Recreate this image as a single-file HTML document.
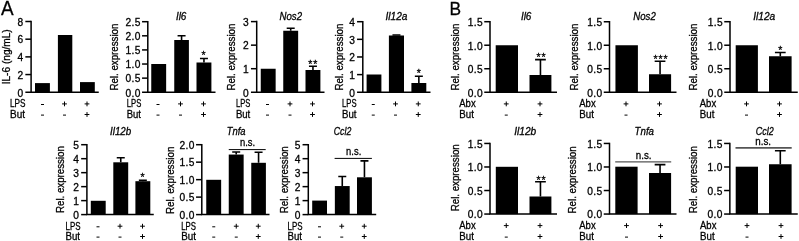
<!DOCTYPE html>
<html><head><meta charset="utf-8"><title>Figure</title>
<style>
html,body{margin:0;padding:0;background:#fff;}
body{width:799px;height:241px;overflow:hidden;}
svg{display:block;will-change:transform;}
svg text{font-family:'Liberation Sans', sans-serif;fill:#000;stroke:#000;stroke-width:0.3px;}
</style></head><body>
<svg width="799" height="241" viewBox="0 0 799 241" shape-rendering="auto">
<path d="M31.1 20.75V92.25H98.75" fill="none" stroke="#000" stroke-width="1.5" stroke-linecap="butt" stroke-linejoin="miter"/>
<path d="M25.35 21.50H31.1" stroke="#000" stroke-width="1.5"/>
<text x="23.15" y="25.80" text-anchor="end" font-size="10.2">8</text>
<path d="M25.35 39.19H31.1" stroke="#000" stroke-width="1.5"/>
<text x="23.15" y="43.49" text-anchor="end" font-size="10.2">6</text>
<path d="M25.35 56.88H31.1" stroke="#000" stroke-width="1.5"/>
<text x="23.15" y="61.17" text-anchor="end" font-size="10.2">4</text>
<path d="M25.35 74.56H31.1" stroke="#000" stroke-width="1.5"/>
<text x="23.15" y="78.86" text-anchor="end" font-size="10.2">2</text>
<path d="M25.35 92.25H31.1" stroke="#000" stroke-width="1.5"/>
<text x="23.15" y="96.55" text-anchor="end" font-size="10.2">0</text>
<rect x="35" y="83.1" width="14.90" height="9.15" fill="#000"/>
<rect x="57.9" y="35" width="14.40" height="57.25" fill="#000"/>
<rect x="80" y="82.1" width="14.80" height="10.15" fill="#000"/>
<text transform="translate(10.0 56.8) rotate(-90)" text-anchor="middle" font-size="10.6" textLength="55" lengthAdjust="spacingAndGlyphs">IL-6 (ng/mL)</text>
<text x="10" y="106.9" font-size="10.2" textLength="15.50" lengthAdjust="spacingAndGlyphs">LPS</text>
<text x="10" y="117.5" font-size="10.2" textLength="15.00" lengthAdjust="spacingAndGlyphs">But</text>
<path d="M41.00 104.50H44.00" stroke="#000" stroke-width="1" fill="none"/>
<path d="M62.10 103.90H66.90M64.50 101.50V106.30" stroke="#000" stroke-width="1" fill="none"/>
<path d="M84.60 103.90H89.40M87.00 101.50V106.30" stroke="#000" stroke-width="1" fill="none"/>
<path d="M41.00 115.10H44.00" stroke="#000" stroke-width="1" fill="none"/>
<path d="M63.00 115.10H66.00" stroke="#000" stroke-width="1" fill="none"/>
<path d="M84.60 114.50H89.40M87.00 112.10V116.90" stroke="#000" stroke-width="1" fill="none"/>
<path d="M147.8 20.95V92.25H215.5" fill="none" stroke="#000" stroke-width="1.5" stroke-linecap="butt" stroke-linejoin="miter"/>
<path d="M142.05 21.70H147.8" stroke="#000" stroke-width="1.5"/>
<text x="140.85" y="26.00" text-anchor="end" font-size="10.2" letter-spacing="0.4">2.5</text>
<path d="M142.05 35.81H147.8" stroke="#000" stroke-width="1.5"/>
<text x="140.85" y="40.11" text-anchor="end" font-size="10.2" letter-spacing="0.4">2.0</text>
<path d="M142.05 49.92H147.8" stroke="#000" stroke-width="1.5"/>
<text x="140.85" y="54.22" text-anchor="end" font-size="10.2" letter-spacing="0.4">1.5</text>
<path d="M142.05 64.03H147.8" stroke="#000" stroke-width="1.5"/>
<text x="140.85" y="68.33" text-anchor="end" font-size="10.2" letter-spacing="0.4">1.0</text>
<path d="M142.05 78.14H147.8" stroke="#000" stroke-width="1.5"/>
<text x="140.85" y="82.44" text-anchor="end" font-size="10.2" letter-spacing="0.4">0.5</text>
<path d="M142.05 92.25H147.8" stroke="#000" stroke-width="1.5"/>
<text x="140.85" y="96.55" text-anchor="end" font-size="10.2" letter-spacing="0.4">0.0</text>
<rect x="151.25" y="64" width="14.90" height="28.25" fill="#000"/>
<rect x="174.25" y="40" width="14.65" height="52.25" fill="#000"/>
<path d="M181.57 40V35.75M177.57 35.75H185.57" stroke="#000" stroke-width="1.6" fill="none"/>
<rect x="196.5" y="62.5" width="14.90" height="29.75" fill="#000"/>
<path d="M203.95 62.5V58.5M199.95 58.5H207.95" stroke="#000" stroke-width="1.6" fill="none"/>
<text x="181.15" y="20" text-anchor="middle" font-style="italic" font-size="10.8" textLength="10.50" lengthAdjust="spacingAndGlyphs">Il6</text>
<text transform="translate(118.3 57.1) rotate(-90)" text-anchor="middle" font-size="10.6" textLength="66.9" lengthAdjust="spacingAndGlyphs">Rel. expression</text>
<text x="126.75" y="106.9" font-size="10.2" textLength="14.50" lengthAdjust="spacingAndGlyphs">LPS</text>
<text x="126.75" y="117.5" font-size="10.2" textLength="14.25" lengthAdjust="spacingAndGlyphs">But</text>
<path d="M156.50 104.50H159.50" stroke="#000" stroke-width="1" fill="none"/>
<path d="M178.10 103.90H182.90M180.50 101.50V106.30" stroke="#000" stroke-width="1" fill="none"/>
<path d="M201.10 103.90H205.90M203.50 101.50V106.30" stroke="#000" stroke-width="1" fill="none"/>
<path d="M156.50 115.10H159.50" stroke="#000" stroke-width="1" fill="none"/>
<path d="M179.00 115.10H182.00" stroke="#000" stroke-width="1" fill="none"/>
<path d="M201.10 114.50H205.90M203.50 112.10V116.90" stroke="#000" stroke-width="1" fill="none"/>
<text x="204.04999999999998" y="59.00" text-anchor="middle" font-size="10.5" letter-spacing="0.9">*</text>
<path d="M256.7 20.85V92.25H324.5" fill="none" stroke="#000" stroke-width="1.5" stroke-linecap="butt" stroke-linejoin="miter"/>
<path d="M250.95 21.60H256.7" stroke="#000" stroke-width="1.5"/>
<text x="248.75" y="25.90" text-anchor="end" font-size="10.2">3</text>
<path d="M250.95 45.15H256.7" stroke="#000" stroke-width="1.5"/>
<text x="248.75" y="49.45" text-anchor="end" font-size="10.2">2</text>
<path d="M250.95 68.70H256.7" stroke="#000" stroke-width="1.5"/>
<text x="248.75" y="73.00" text-anchor="end" font-size="10.2">1</text>
<path d="M250.95 92.25H256.7" stroke="#000" stroke-width="1.5"/>
<text x="248.75" y="96.55" text-anchor="end" font-size="10.2">0</text>
<rect x="260.75" y="68.75" width="14.90" height="23.50" fill="#000"/>
<rect x="283.25" y="30.75" width="14.90" height="61.50" fill="#000"/>
<path d="M290.70 30.75V28.25M286.70 28.25H294.70" stroke="#000" stroke-width="1.6" fill="none"/>
<rect x="305.5" y="70" width="14.90" height="22.25" fill="#000"/>
<path d="M312.95 70V66.25M308.95 66.25H316.95" stroke="#000" stroke-width="1.6" fill="none"/>
<text x="290.75" y="19.5" text-anchor="middle" font-style="italic" font-size="10.8" textLength="22.50" lengthAdjust="spacingAndGlyphs">Nos2</text>
<text transform="translate(235 57.1) rotate(-90)" text-anchor="middle" font-size="10.6" textLength="66.9" lengthAdjust="spacingAndGlyphs">Rel. expression</text>
<text x="235.9" y="106.9" font-size="10.2" textLength="14.40" lengthAdjust="spacingAndGlyphs">LPS</text>
<text x="235.9" y="117.5" font-size="10.2" textLength="14.40" lengthAdjust="spacingAndGlyphs">But</text>
<path d="M266.00 104.50H269.00" stroke="#000" stroke-width="1" fill="none"/>
<path d="M287.60 103.90H292.40M290.00 101.50V106.30" stroke="#000" stroke-width="1" fill="none"/>
<path d="M310.10 103.90H314.90M312.50 101.50V106.30" stroke="#000" stroke-width="1" fill="none"/>
<path d="M266.00 115.10H269.00" stroke="#000" stroke-width="1" fill="none"/>
<path d="M288.50 115.10H291.50" stroke="#000" stroke-width="1" fill="none"/>
<path d="M310.10 114.50H314.90M312.50 112.10V116.90" stroke="#000" stroke-width="1" fill="none"/>
<text x="313.2" y="68.30" text-anchor="middle" font-size="10.5" letter-spacing="0.9">**</text>
<path d="M362.8 20.95V92.25H430.5" fill="none" stroke="#000" stroke-width="1.5" stroke-linecap="butt" stroke-linejoin="miter"/>
<path d="M357.05 21.70H362.8" stroke="#000" stroke-width="1.5"/>
<text x="354.85" y="26.00" text-anchor="end" font-size="10.2">4</text>
<path d="M357.05 39.34H362.8" stroke="#000" stroke-width="1.5"/>
<text x="354.85" y="43.64" text-anchor="end" font-size="10.2">3</text>
<path d="M357.05 56.97H362.8" stroke="#000" stroke-width="1.5"/>
<text x="354.85" y="61.27" text-anchor="end" font-size="10.2">2</text>
<path d="M357.05 74.61H362.8" stroke="#000" stroke-width="1.5"/>
<text x="354.85" y="78.91" text-anchor="end" font-size="10.2">1</text>
<path d="M357.05 92.25H362.8" stroke="#000" stroke-width="1.5"/>
<text x="354.85" y="96.55" text-anchor="end" font-size="10.2">0</text>
<rect x="366.6" y="74.5" width="14.80" height="17.75" fill="#000"/>
<rect x="388.9" y="35.5" width="15.10" height="56.75" fill="#000"/>
<path d="M396.45 35.5V35.0M392.45 35.0H400.45" stroke="#000" stroke-width="1.6" fill="none"/>
<rect x="411.4" y="83" width="14.90" height="9.25" fill="#000"/>
<path d="M418.85 83V76.25M414.85 76.25H422.85" stroke="#000" stroke-width="1.6" fill="none"/>
<text x="396.50" y="20" text-anchor="middle" font-style="italic" font-size="10.8" textLength="22.00" lengthAdjust="spacingAndGlyphs">Il12a</text>
<text transform="translate(343 57.1) rotate(-90)" text-anchor="middle" font-size="10.6" textLength="66.9" lengthAdjust="spacingAndGlyphs">Rel. expression</text>
<text x="342" y="106.9" font-size="10.2" textLength="14.50" lengthAdjust="spacingAndGlyphs">LPS</text>
<text x="342" y="117.5" font-size="10.2" textLength="14.50" lengthAdjust="spacingAndGlyphs">But</text>
<path d="M371.75 104.50H374.75" stroke="#000" stroke-width="1" fill="none"/>
<path d="M393.10 103.90H397.90M395.50 101.50V106.30" stroke="#000" stroke-width="1" fill="none"/>
<path d="M415.85 103.90H420.65M418.25 101.50V106.30" stroke="#000" stroke-width="1" fill="none"/>
<path d="M371.75 115.10H374.75" stroke="#000" stroke-width="1" fill="none"/>
<path d="M394.00 115.10H397.00" stroke="#000" stroke-width="1" fill="none"/>
<path d="M415.85 114.50H420.65M418.25 112.10V116.90" stroke="#000" stroke-width="1" fill="none"/>
<text x="419.2" y="77.00" text-anchor="middle" font-size="10.5" letter-spacing="0.9">*</text>
<path d="M86.9 143.95V214.60H153.75" fill="none" stroke="#000" stroke-width="1.5" stroke-linecap="butt" stroke-linejoin="miter"/>
<path d="M81.15 144.70H86.9" stroke="#000" stroke-width="1.5"/>
<text x="78.95" y="149.00" text-anchor="end" font-size="10.2">5</text>
<path d="M81.15 158.68H86.9" stroke="#000" stroke-width="1.5"/>
<text x="78.95" y="162.98" text-anchor="end" font-size="10.2">4</text>
<path d="M81.15 172.66H86.9" stroke="#000" stroke-width="1.5"/>
<text x="78.95" y="176.96" text-anchor="end" font-size="10.2">3</text>
<path d="M81.15 186.64H86.9" stroke="#000" stroke-width="1.5"/>
<text x="78.95" y="190.94" text-anchor="end" font-size="10.2">2</text>
<path d="M81.15 200.62H86.9" stroke="#000" stroke-width="1.5"/>
<text x="78.95" y="204.92" text-anchor="end" font-size="10.2">1</text>
<path d="M81.15 214.60H86.9" stroke="#000" stroke-width="1.5"/>
<text x="78.95" y="218.90" text-anchor="end" font-size="10.2">0</text>
<rect x="90.8" y="200.8" width="14.90" height="13.80" fill="#000"/>
<rect x="113.3" y="162.3" width="14.90" height="52.30" fill="#000"/>
<path d="M120.75 162.3V157.7M116.75 157.7H124.75" stroke="#000" stroke-width="1.6" fill="none"/>
<rect x="135.4" y="181.2" width="14.90" height="33.40" fill="#000"/>
<path d="M142.85 181.2V180.2M138.85 180.2H146.85" stroke="#000" stroke-width="1.6" fill="none"/>
<text x="120.62" y="135" text-anchor="middle" font-style="italic" font-size="10.8" textLength="21.25" lengthAdjust="spacingAndGlyphs">Il12b</text>
<text transform="translate(63.8 179.6) rotate(-90)" text-anchor="middle" font-size="10.6" textLength="66.8" lengthAdjust="spacingAndGlyphs">Rel. expression</text>
<text x="65.5" y="229.7" font-size="10.2" textLength="15.00" lengthAdjust="spacingAndGlyphs">LPS</text>
<text x="65.5" y="239.9" font-size="10.2" textLength="14.50" lengthAdjust="spacingAndGlyphs">But</text>
<path d="M96.50 226.80H99.50" stroke="#000" stroke-width="1" fill="none"/>
<path d="M117.60 226.20H122.40M120.00 223.80V228.60" stroke="#000" stroke-width="1" fill="none"/>
<path d="M140.10 226.20H144.90M142.50 223.80V228.60" stroke="#000" stroke-width="1" fill="none"/>
<path d="M96.50 237.10H99.50" stroke="#000" stroke-width="1" fill="none"/>
<path d="M118.50 237.10H121.50" stroke="#000" stroke-width="1" fill="none"/>
<path d="M140.10 236.50H144.90M142.50 234.10V238.90" stroke="#000" stroke-width="1" fill="none"/>
<text x="142.95" y="181.30" text-anchor="middle" font-size="10.5" letter-spacing="0.9">*</text>
<path d="M201.8 143.95V214.60H269.5" fill="none" stroke="#000" stroke-width="1.5" stroke-linecap="butt" stroke-linejoin="miter"/>
<path d="M196.05 144.70H201.8" stroke="#000" stroke-width="1.5"/>
<text x="194.85" y="149.00" text-anchor="end" font-size="10.2" letter-spacing="0.4">2.0</text>
<path d="M196.05 162.17H201.8" stroke="#000" stroke-width="1.5"/>
<text x="194.85" y="166.47" text-anchor="end" font-size="10.2" letter-spacing="0.4">1.5</text>
<path d="M196.05 179.65H201.8" stroke="#000" stroke-width="1.5"/>
<text x="194.85" y="183.95" text-anchor="end" font-size="10.2" letter-spacing="0.4">1.0</text>
<path d="M196.05 197.12H201.8" stroke="#000" stroke-width="1.5"/>
<text x="194.85" y="201.43" text-anchor="end" font-size="10.2" letter-spacing="0.4">0.5</text>
<path d="M196.05 214.60H201.8" stroke="#000" stroke-width="1.5"/>
<text x="194.85" y="218.90" text-anchor="end" font-size="10.2" letter-spacing="0.4">0.0</text>
<rect x="206.25" y="179.8" width="14.90" height="34.80" fill="#000"/>
<rect x="228.75" y="154.55" width="14.90" height="60.05" fill="#000"/>
<path d="M236.20 154.55V152.05M232.20 152.05H240.20" stroke="#000" stroke-width="1.6" fill="none"/>
<rect x="251.25" y="162.8" width="14.65" height="51.80" fill="#000"/>
<path d="M258.57 162.8V152.3M254.57 152.3H262.57" stroke="#000" stroke-width="1.6" fill="none"/>
<text x="236.10" y="135" text-anchor="middle" font-style="italic" font-size="10.8" textLength="18.80" lengthAdjust="spacingAndGlyphs">Tnfa</text>
<text transform="translate(173.6 180.3) rotate(-90)" text-anchor="middle" font-size="10.6" textLength="67.3" lengthAdjust="spacingAndGlyphs">Rel. expression</text>
<text x="181.25" y="229.7" font-size="10.2" textLength="14.75" lengthAdjust="spacingAndGlyphs">LPS</text>
<text x="181.25" y="239.9" font-size="10.2" textLength="14.75" lengthAdjust="spacingAndGlyphs">But</text>
<path d="M212.25 226.80H215.25" stroke="#000" stroke-width="1" fill="none"/>
<path d="M233.85 226.20H238.65M236.25 223.80V228.60" stroke="#000" stroke-width="1" fill="none"/>
<path d="M255.85 226.20H260.65M258.25 223.80V228.60" stroke="#000" stroke-width="1" fill="none"/>
<path d="M212.25 237.10H215.25" stroke="#000" stroke-width="1" fill="none"/>
<path d="M234.75 237.10H237.75" stroke="#000" stroke-width="1" fill="none"/>
<path d="M255.85 236.50H260.65M258.25 234.10V238.90" stroke="#000" stroke-width="1" fill="none"/>
<text x="240" y="146.3" font-size="10.2" textLength="15.20" lengthAdjust="spacingAndGlyphs">n.s.</text>
<path d="M228.75 149.6H265.7" stroke="#000" stroke-width="1.0"/>
<path d="M308.3 143.95V214.60H376.2" fill="none" stroke="#000" stroke-width="1.5" stroke-linecap="butt" stroke-linejoin="miter"/>
<path d="M302.55 144.70H308.3" stroke="#000" stroke-width="1.5"/>
<text x="300.35" y="149.00" text-anchor="end" font-size="10.2">5</text>
<path d="M302.55 158.68H308.3" stroke="#000" stroke-width="1.5"/>
<text x="300.35" y="162.98" text-anchor="end" font-size="10.2">4</text>
<path d="M302.55 172.66H308.3" stroke="#000" stroke-width="1.5"/>
<text x="300.35" y="176.96" text-anchor="end" font-size="10.2">3</text>
<path d="M302.55 186.64H308.3" stroke="#000" stroke-width="1.5"/>
<text x="300.35" y="190.94" text-anchor="end" font-size="10.2">2</text>
<path d="M302.55 200.62H308.3" stroke="#000" stroke-width="1.5"/>
<text x="300.35" y="204.92" text-anchor="end" font-size="10.2">1</text>
<path d="M302.55 214.60H308.3" stroke="#000" stroke-width="1.5"/>
<text x="300.35" y="218.90" text-anchor="end" font-size="10.2">0</text>
<rect x="312.2" y="200.6" width="14.80" height="14.00" fill="#000"/>
<rect x="334.85" y="186.05" width="14.85" height="28.55" fill="#000"/>
<path d="M342.27 186.05V176.55M338.27 176.55H346.27" stroke="#000" stroke-width="1.6" fill="none"/>
<rect x="357" y="177.3" width="14.90" height="37.30" fill="#000"/>
<path d="M364.45 177.3V160.9M360.45 160.9H368.45" stroke="#000" stroke-width="1.6" fill="none"/>
<text x="342.50" y="135" text-anchor="middle" font-style="italic" font-size="10.8" textLength="17.50" lengthAdjust="spacingAndGlyphs">Ccl2</text>
<text transform="translate(287.5 179.8) rotate(-90)" text-anchor="middle" font-size="10.6" textLength="67.0" lengthAdjust="spacingAndGlyphs">Rel. expression</text>
<text x="287.5" y="229.7" font-size="10.2" textLength="15.00" lengthAdjust="spacingAndGlyphs">LPS</text>
<text x="287.5" y="239.9" font-size="10.2" textLength="14.50" lengthAdjust="spacingAndGlyphs">But</text>
<path d="M318.00 226.80H321.00" stroke="#000" stroke-width="1" fill="none"/>
<path d="M339.35 226.20H344.15M341.75 223.80V228.60" stroke="#000" stroke-width="1" fill="none"/>
<path d="M361.85 226.20H366.65M364.25 223.80V228.60" stroke="#000" stroke-width="1" fill="none"/>
<path d="M318.00 237.10H321.00" stroke="#000" stroke-width="1" fill="none"/>
<path d="M340.25 237.10H343.25" stroke="#000" stroke-width="1" fill="none"/>
<path d="M361.85 236.50H366.65M364.25 234.10V238.90" stroke="#000" stroke-width="1" fill="none"/>
<text x="346.1" y="154.9" font-size="10.2" textLength="15.20" lengthAdjust="spacingAndGlyphs">n.s.</text>
<path d="M334.6 158.4H371.9" stroke="#000" stroke-width="1.0"/>
<path d="M490.0 20.95V92.25H557" fill="none" stroke="#000" stroke-width="1.5" stroke-linecap="butt" stroke-linejoin="miter"/>
<path d="M484.25 21.70H490.0" stroke="#000" stroke-width="1.5"/>
<text x="483.05" y="26.00" text-anchor="end" font-size="10.2" letter-spacing="0.4">1.5</text>
<path d="M484.25 45.22H490.0" stroke="#000" stroke-width="1.5"/>
<text x="483.05" y="49.52" text-anchor="end" font-size="10.2" letter-spacing="0.4">1.0</text>
<path d="M484.25 68.73H490.0" stroke="#000" stroke-width="1.5"/>
<text x="483.05" y="73.03" text-anchor="end" font-size="10.2" letter-spacing="0.4">0.5</text>
<path d="M484.25 92.25H490.0" stroke="#000" stroke-width="1.5"/>
<text x="483.05" y="96.55" text-anchor="end" font-size="10.2" letter-spacing="0.4">0.0</text>
<rect x="495.7" y="45.25" width="22.30" height="47.00" fill="#000"/>
<rect x="529.5" y="75" width="21.90" height="17.25" fill="#000"/>
<path d="M540.45 75V59.6M535.08 59.6H545.83" stroke="#000" stroke-width="1.6" fill="none"/>
<text x="526.15" y="20" text-anchor="middle" font-style="italic" font-size="10.8" textLength="10.50" lengthAdjust="spacingAndGlyphs">Il6</text>
<text transform="translate(458.5 57.1) rotate(-90)" text-anchor="middle" font-size="10.6" textLength="66.9" lengthAdjust="spacingAndGlyphs">Rel. expression</text>
<text x="459.25" y="107.3" font-size="10.2" textLength="16.40" lengthAdjust="spacingAndGlyphs">Abx</text>
<text x="459.35" y="117.9" font-size="10.2" textLength="14.60" lengthAdjust="spacingAndGlyphs">But</text>
<path d="M503.85 103.90H508.65M506.25 101.50V106.30" stroke="#000" stroke-width="1" fill="none"/>
<path d="M537.60 103.90H542.40M540.00 101.50V106.30" stroke="#000" stroke-width="1" fill="none"/>
<path d="M504.75 115.10H507.75" stroke="#000" stroke-width="1" fill="none"/>
<path d="M537.60 114.50H542.40M540.00 112.10V116.90" stroke="#000" stroke-width="1" fill="none"/>
<text x="541.45" y="61.30" text-anchor="middle" font-size="10.5" letter-spacing="0.9">**</text>
<path d="M609.5 21.00V92.25H676.5" fill="none" stroke="#000" stroke-width="1.5" stroke-linecap="butt" stroke-linejoin="miter"/>
<path d="M603.75 21.75H609.5" stroke="#000" stroke-width="1.5"/>
<text x="602.55" y="26.05" text-anchor="end" font-size="10.2" letter-spacing="0.4">1.5</text>
<path d="M603.75 45.25H609.5" stroke="#000" stroke-width="1.5"/>
<text x="602.55" y="49.55" text-anchor="end" font-size="10.2" letter-spacing="0.4">1.0</text>
<path d="M603.75 68.75H609.5" stroke="#000" stroke-width="1.5"/>
<text x="602.55" y="73.05" text-anchor="end" font-size="10.2" letter-spacing="0.4">0.5</text>
<path d="M603.75 92.25H609.5" stroke="#000" stroke-width="1.5"/>
<text x="602.55" y="96.55" text-anchor="end" font-size="10.2" letter-spacing="0.4">0.0</text>
<rect x="615.45" y="45.25" width="22.45" height="47.00" fill="#000"/>
<rect x="649" y="74.25" width="22.10" height="18.00" fill="#000"/>
<path d="M660.05 74.25V61.25M654.67 61.25H665.42" stroke="#000" stroke-width="1.6" fill="none"/>
<text x="644.50" y="19.5" text-anchor="middle" font-style="italic" font-size="10.8" textLength="22.50" lengthAdjust="spacingAndGlyphs">Nos2</text>
<text transform="translate(577.5 57.1) rotate(-90)" text-anchor="middle" font-size="10.6" textLength="66.9" lengthAdjust="spacingAndGlyphs">Rel. expression</text>
<text x="579.25" y="107.3" font-size="10.2" textLength="16.40" lengthAdjust="spacingAndGlyphs">Abx</text>
<text x="579.35" y="117.9" font-size="10.2" textLength="14.60" lengthAdjust="spacingAndGlyphs">But</text>
<path d="M623.60 103.90H628.40M626.00 101.50V106.30" stroke="#000" stroke-width="1" fill="none"/>
<path d="M657.10 103.90H661.90M659.50 101.50V106.30" stroke="#000" stroke-width="1" fill="none"/>
<path d="M624.50 115.10H627.50" stroke="#000" stroke-width="1" fill="none"/>
<path d="M657.10 114.50H661.90M659.50 112.10V116.90" stroke="#000" stroke-width="1" fill="none"/>
<text x="660.95" y="62.80" text-anchor="middle" font-size="10.5" letter-spacing="0.9">***</text>
<path d="M730.0 20.95V92.25H797.75" fill="none" stroke="#000" stroke-width="1.5" stroke-linecap="butt" stroke-linejoin="miter"/>
<path d="M724.25 21.70H730.0" stroke="#000" stroke-width="1.5"/>
<text x="723.05" y="26.00" text-anchor="end" font-size="10.2" letter-spacing="0.4">1.5</text>
<path d="M724.25 45.22H730.0" stroke="#000" stroke-width="1.5"/>
<text x="723.05" y="49.52" text-anchor="end" font-size="10.2" letter-spacing="0.4">1.0</text>
<path d="M724.25 68.73H730.0" stroke="#000" stroke-width="1.5"/>
<text x="723.05" y="73.03" text-anchor="end" font-size="10.2" letter-spacing="0.4">0.5</text>
<path d="M724.25 92.25H730.0" stroke="#000" stroke-width="1.5"/>
<text x="723.05" y="96.55" text-anchor="end" font-size="10.2" letter-spacing="0.4">0.0</text>
<rect x="735.7" y="45.25" width="22.20" height="47.00" fill="#000"/>
<rect x="769" y="56.25" width="22.60" height="36.00" fill="#000"/>
<path d="M780.30 56.25V52.5M774.92 52.5H785.67" stroke="#000" stroke-width="1.6" fill="none"/>
<text x="764.25" y="20" text-anchor="middle" font-style="italic" font-size="10.8" textLength="22.00" lengthAdjust="spacingAndGlyphs">Il12a</text>
<text transform="translate(697.0 57.1) rotate(-90)" text-anchor="middle" font-size="10.6" textLength="66.9" lengthAdjust="spacingAndGlyphs">Rel. expression</text>
<text x="699.75" y="107.3" font-size="10.2" textLength="16.40" lengthAdjust="spacingAndGlyphs">Abx</text>
<text x="699.85" y="117.9" font-size="10.2" textLength="14.60" lengthAdjust="spacingAndGlyphs">But</text>
<path d="M744.10 103.90H748.90M746.50 101.50V106.30" stroke="#000" stroke-width="1" fill="none"/>
<path d="M777.10 103.90H781.90M779.50 101.50V106.30" stroke="#000" stroke-width="1" fill="none"/>
<path d="M745.00 115.10H748.00" stroke="#000" stroke-width="1" fill="none"/>
<path d="M777.10 114.50H781.90M779.50 112.10V116.90" stroke="#000" stroke-width="1" fill="none"/>
<text x="780.7" y="53.80" text-anchor="middle" font-size="10.5" letter-spacing="0.9">*</text>
<path d="M490.0 142.70V214.05H557" fill="none" stroke="#000" stroke-width="1.5" stroke-linecap="butt" stroke-linejoin="miter"/>
<path d="M484.25 143.45H490.0" stroke="#000" stroke-width="1.5"/>
<text x="483.05" y="147.75" text-anchor="end" font-size="10.2" letter-spacing="0.4">1.5</text>
<path d="M484.25 166.98H490.0" stroke="#000" stroke-width="1.5"/>
<text x="483.05" y="171.28" text-anchor="end" font-size="10.2" letter-spacing="0.4">1.0</text>
<path d="M484.25 190.52H490.0" stroke="#000" stroke-width="1.5"/>
<text x="483.05" y="194.82" text-anchor="end" font-size="10.2" letter-spacing="0.4">0.5</text>
<path d="M484.25 214.05H490.0" stroke="#000" stroke-width="1.5"/>
<text x="483.05" y="218.35" text-anchor="end" font-size="10.2" letter-spacing="0.4">0.0</text>
<rect x="495.8" y="166.8" width="22.20" height="47.25" fill="#000"/>
<rect x="529.5" y="196.5" width="21.90" height="17.55" fill="#000"/>
<path d="M540.45 196.5V181.75M535.08 181.75H545.83" stroke="#000" stroke-width="1.6" fill="none"/>
<text x="525.25" y="135" text-anchor="middle" font-style="italic" font-size="10.8" textLength="22.00" lengthAdjust="spacingAndGlyphs">Il12b</text>
<text transform="translate(459 177.8) rotate(-90)" text-anchor="middle" font-size="10.6" textLength="67.0" lengthAdjust="spacingAndGlyphs">Rel. expression</text>
<text x="459.25" y="228.8" font-size="10.2" textLength="16.40" lengthAdjust="spacingAndGlyphs">Abx</text>
<text x="459.35" y="239.7" font-size="10.2" textLength="14.60" lengthAdjust="spacingAndGlyphs">But</text>
<path d="M503.85 225.60H508.65M506.25 223.20V228.00" stroke="#000" stroke-width="1" fill="none"/>
<path d="M537.60 225.60H542.40M540.00 223.20V228.00" stroke="#000" stroke-width="1" fill="none"/>
<path d="M504.75 237.10H507.75" stroke="#000" stroke-width="1" fill="none"/>
<path d="M537.60 236.50H542.40M540.00 234.10V238.90" stroke="#000" stroke-width="1" fill="none"/>
<text x="541.45" y="183.55" text-anchor="middle" font-size="10.5" letter-spacing="0.9">**</text>
<path d="M609.5 142.70V214.05H676.5" fill="none" stroke="#000" stroke-width="1.5" stroke-linecap="butt" stroke-linejoin="miter"/>
<path d="M603.75 143.45H609.5" stroke="#000" stroke-width="1.5"/>
<text x="602.55" y="147.75" text-anchor="end" font-size="10.2" letter-spacing="0.4">1.5</text>
<path d="M603.75 166.98H609.5" stroke="#000" stroke-width="1.5"/>
<text x="602.55" y="171.28" text-anchor="end" font-size="10.2" letter-spacing="0.4">1.0</text>
<path d="M603.75 190.52H609.5" stroke="#000" stroke-width="1.5"/>
<text x="602.55" y="194.82" text-anchor="end" font-size="10.2" letter-spacing="0.4">0.5</text>
<path d="M603.75 214.05H609.5" stroke="#000" stroke-width="1.5"/>
<text x="602.55" y="218.35" text-anchor="end" font-size="10.2" letter-spacing="0.4">0.0</text>
<rect x="615.3" y="166.7" width="22.30" height="47.35" fill="#000"/>
<rect x="649" y="173" width="22.10" height="41.05" fill="#000"/>
<path d="M660.05 173V164.6M654.67 164.6H665.42" stroke="#000" stroke-width="1.6" fill="none"/>
<text x="644.30" y="135" text-anchor="middle" font-style="italic" font-size="10.8" textLength="19.40" lengthAdjust="spacingAndGlyphs">Tnfa</text>
<text transform="translate(576.3 179.9) rotate(-90)" text-anchor="middle" font-size="10.6" textLength="67.0" lengthAdjust="spacingAndGlyphs">Rel. expression</text>
<text x="579.25" y="228.8" font-size="10.2" textLength="16.40" lengthAdjust="spacingAndGlyphs">Abx</text>
<text x="579.35" y="239.7" font-size="10.2" textLength="14.60" lengthAdjust="spacingAndGlyphs">But</text>
<path d="M624.10 225.60H628.90M626.50 223.20V228.00" stroke="#000" stroke-width="1" fill="none"/>
<path d="M658.20 225.60H663.00M660.60 223.20V228.00" stroke="#000" stroke-width="1" fill="none"/>
<path d="M625.00 237.10H628.00" stroke="#000" stroke-width="1" fill="none"/>
<path d="M658.20 236.50H663.00M660.60 234.10V238.90" stroke="#000" stroke-width="1" fill="none"/>
<text x="635.75" y="158.75" font-size="10.2" textLength="15.75" lengthAdjust="spacingAndGlyphs">n.s.</text>
<path d="M615.2 161.9H671.2" stroke="#555" stroke-width="1.4"/>
<path d="M729.85 142.70V214.05H797.75" fill="none" stroke="#000" stroke-width="1.5" stroke-linecap="butt" stroke-linejoin="miter"/>
<path d="M724.10 143.45H729.85" stroke="#000" stroke-width="1.5"/>
<text x="722.90" y="147.75" text-anchor="end" font-size="10.2" letter-spacing="0.4">1.5</text>
<path d="M724.10 166.98H729.85" stroke="#000" stroke-width="1.5"/>
<text x="722.90" y="171.28" text-anchor="end" font-size="10.2" letter-spacing="0.4">1.0</text>
<path d="M724.10 190.52H729.85" stroke="#000" stroke-width="1.5"/>
<text x="722.90" y="194.82" text-anchor="end" font-size="10.2" letter-spacing="0.4">0.5</text>
<path d="M724.10 214.05H729.85" stroke="#000" stroke-width="1.5"/>
<text x="722.90" y="218.35" text-anchor="end" font-size="10.2" letter-spacing="0.4">0.0</text>
<rect x="735.7" y="166.7" width="22.30" height="47.35" fill="#000"/>
<rect x="769" y="164.25" width="22.60" height="49.80" fill="#000"/>
<path d="M780.30 164.25V150.8M774.92 150.8H785.67" stroke="#000" stroke-width="1.6" fill="none"/>
<text x="764.70" y="135" text-anchor="middle" font-style="italic" font-size="10.8" textLength="18.00" lengthAdjust="spacingAndGlyphs">Ccl2</text>
<text transform="translate(697.2 179.7) rotate(-90)" text-anchor="middle" font-size="10.6" textLength="67.0" lengthAdjust="spacingAndGlyphs">Rel. expression</text>
<text x="700.0" y="228.8" font-size="10.2" textLength="16.40" lengthAdjust="spacingAndGlyphs">Abx</text>
<text x="700.1" y="239.7" font-size="10.2" textLength="14.60" lengthAdjust="spacingAndGlyphs">But</text>
<path d="M744.60 225.60H749.40M747.00 223.20V228.00" stroke="#000" stroke-width="1" fill="none"/>
<path d="M778.60 225.60H783.40M781.00 223.20V228.00" stroke="#000" stroke-width="1" fill="none"/>
<path d="M745.50 237.10H748.50" stroke="#000" stroke-width="1" fill="none"/>
<path d="M778.60 236.50H783.40M781.00 234.10V238.90" stroke="#000" stroke-width="1" fill="none"/>
<text x="755.25" y="145" font-size="10.2" textLength="15.75" lengthAdjust="spacingAndGlyphs">n.s.</text>
<path d="M735.5 147.9H791.7" stroke="#555" stroke-width="1.7"/>
<text x="0.9" y="15" font-size="20.3" textLength="12.6" lengthAdjust="spacingAndGlyphs">A</text>
<text x="449.5" y="14.7" font-size="18.4" textLength="11.6" lengthAdjust="spacingAndGlyphs">B</text>
</svg>
</body></html>
